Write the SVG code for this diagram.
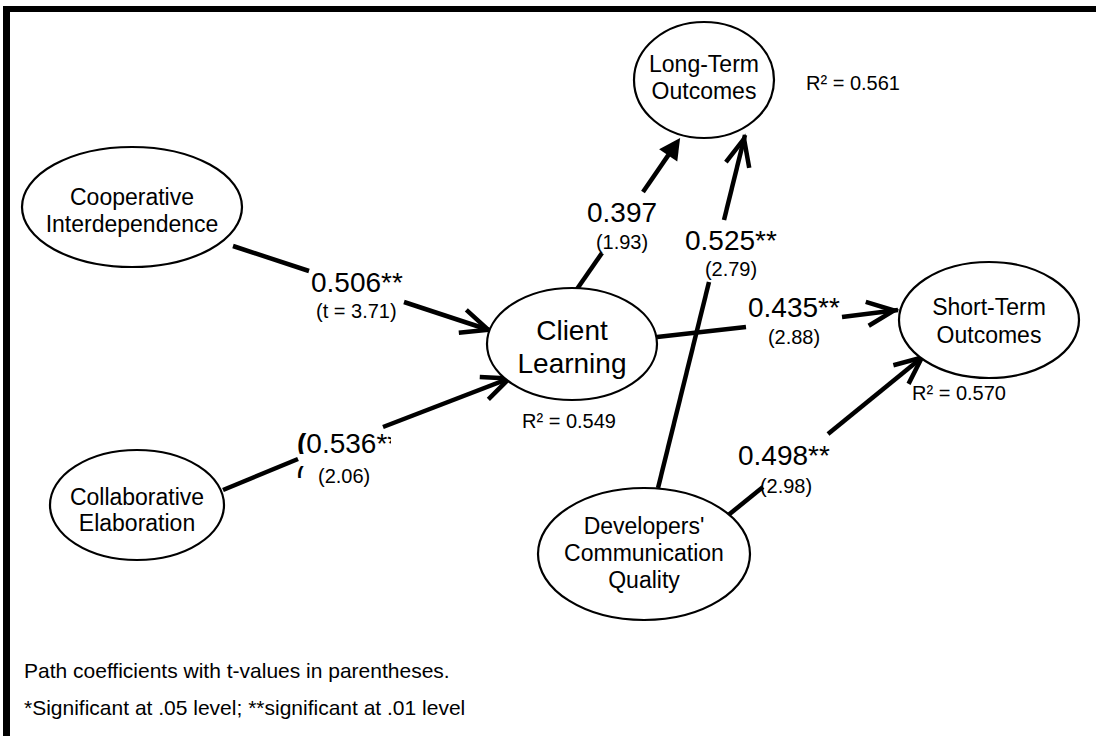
<svg xmlns="http://www.w3.org/2000/svg" width="1096" height="736" viewBox="0 0 1096 736">
<defs>
<style>
text{font-family:"Liberation Sans",Arial,Helvetica,sans-serif;fill:#000}
.node ellipse{fill:#fff;stroke:#000;stroke-width:2.2}
.lbl{font-size:23px;text-anchor:middle}
.big{font-size:28px;text-anchor:middle}
.coef{font-size:28px}
.tval{font-size:20px}
.r2{font-size:20px}
.note{font-size:21px}
.edge line{stroke:#000;stroke-width:4.5;fill:none}
</style>
<marker id="open" markerUnits="userSpaceOnUse" viewBox="-36 -18 40 36" markerWidth="40" markerHeight="36" refX="0" refY="0" orient="auto">
<path d="M-31,-12 L-4,0 L-31,12" fill="none" stroke="#000" stroke-width="4.5"/>
</marker>
<marker id="filled" markerUnits="userSpaceOnUse" viewBox="-6 -14 28 28" markerWidth="28" markerHeight="28" refX="0" refY="0" orient="auto">
<path d="M-3,-11 L18,0 L-3,11 Z" fill="#000"/>
</marker>
<clipPath id="c536"><rect x="290" y="420" width="101" height="34"/></clipPath>
<clipPath id="cpar"><rect x="290" y="463" width="20" height="15"/></clipPath>
</defs>
<rect width="1096" height="736" fill="#fff"/>
<g id="frame">
<rect x="3" y="6" width="1093" height="6" fill="#000"/>
<rect x="3" y="6" width="7" height="730" fill="#000"/>
</g>
<g id="connectors" class="edge">
<line x1="233" y1="246" x2="309" y2="271"/>
<line x1="404" y1="302" x2="492" y2="331" marker-end="url(#open)"/>
<line x1="223" y1="490" x2="298" y2="459"/>
<line x1="383" y1="427" x2="513" y2="377" marker-end="url(#open)"/>
<line x1="577" y1="289" x2="602" y2="253"/>
<line x1="643" y1="192" x2="669.9" y2="152.9" marker-end="url(#filled)"/>
<line x1="658" y1="488" x2="709" y2="282"/>
<line x1="724" y1="220" x2="745" y2="135" marker-end="url(#open)"/>
<line x1="657" y1="337" x2="746" y2="327"/>
<line x1="842" y1="317" x2="898" y2="310" marker-end="url(#open)"/>
<line x1="729" y1="514.5" x2="763" y2="487"/>
<line x1="828" y1="434" x2="925" y2="355" marker-end="url(#open)"/>
</g>
<g id="node-longterm" class="node">
<ellipse cx="704" cy="80" rx="70" ry="58"/>
<text class="lbl" x="704" y="72">Long-Term</text>
<text class="lbl" x="704" y="99">Outcomes</text>
</g>
<g id="node-coop" class="node">
<ellipse cx="132" cy="207" rx="110" ry="60"/>
<text class="lbl" x="132" y="205">Cooperative</text>
<text class="lbl" x="132" y="232">Interdependence</text>
</g>
<g id="node-client" class="node">
<ellipse cx="572" cy="344" rx="85" ry="56"/>
<text class="big" x="572" y="340">Client</text>
<text class="big" x="572" y="373">Learning</text>
</g>
<g id="node-collab" class="node">
<ellipse cx="137" cy="505" rx="87" ry="55"/>
<text class="lbl" x="137" y="505">Collaborative</text>
<text class="lbl" x="137" y="531">Elaboration</text>
</g>
<g id="node-shortterm" class="node">
<ellipse cx="989" cy="320" rx="90" ry="58"/>
<text class="lbl" x="989" y="315">Short-Term</text>
<text class="lbl" x="989" y="343">Outcomes</text>
</g>
<g id="node-developers" class="node">
<ellipse cx="644" cy="554" rx="106" ry="66"/>
<text class="lbl" x="644" y="534">Developers'</text>
<text class="lbl" x="644" y="561">Communication</text>
<text class="lbl" x="644" y="588">Quality</text>
</g>
<g id="labels">
<text class="r2" x="806" y="90">R² = 0.561</text>
<text class="r2" x="522" y="428">R² = 0.549</text>
<text class="r2" x="912" y="400">R² = 0.570</text>
<text class="coef" x="311" y="292">0.506**</text>
<text class="tval" x="316" y="318">(t = 3.71)</text>
<g clip-path="url(#c536)">
<text class="coef" x="297" y="453"><tspan font-weight="bold">(</tspan>0.536**</text>
</g>
<text class="tval" x="297" y="481" font-weight="bold" clip-path="url(#cpar)">(</text>
<text class="tval" x="318" y="483">(2.06)</text>
<text class="coef" x="622" y="222" text-anchor="middle">0.397</text>
<text class="tval" x="622" y="249" text-anchor="middle">(1.93)</text>
<text class="coef" x="685" y="250">0.525**</text>
<text class="tval" x="731" y="276" text-anchor="middle">(2.79)</text>
<text class="coef" x="748" y="317">0.435**</text>
<text class="tval" x="794" y="344" text-anchor="middle">(2.88)</text>
<text class="coef" x="738" y="465">0.498**</text>
<text class="tval" x="786" y="493" text-anchor="middle">(2.98)</text>
</g>
<g id="note">
<text class="note" x="24" y="678">Path coefficients with t-values in parentheses.</text>
<text class="note" x="24" y="715">*Significant at .05 level; **significant at .01 level</text>
</g>
</svg>
